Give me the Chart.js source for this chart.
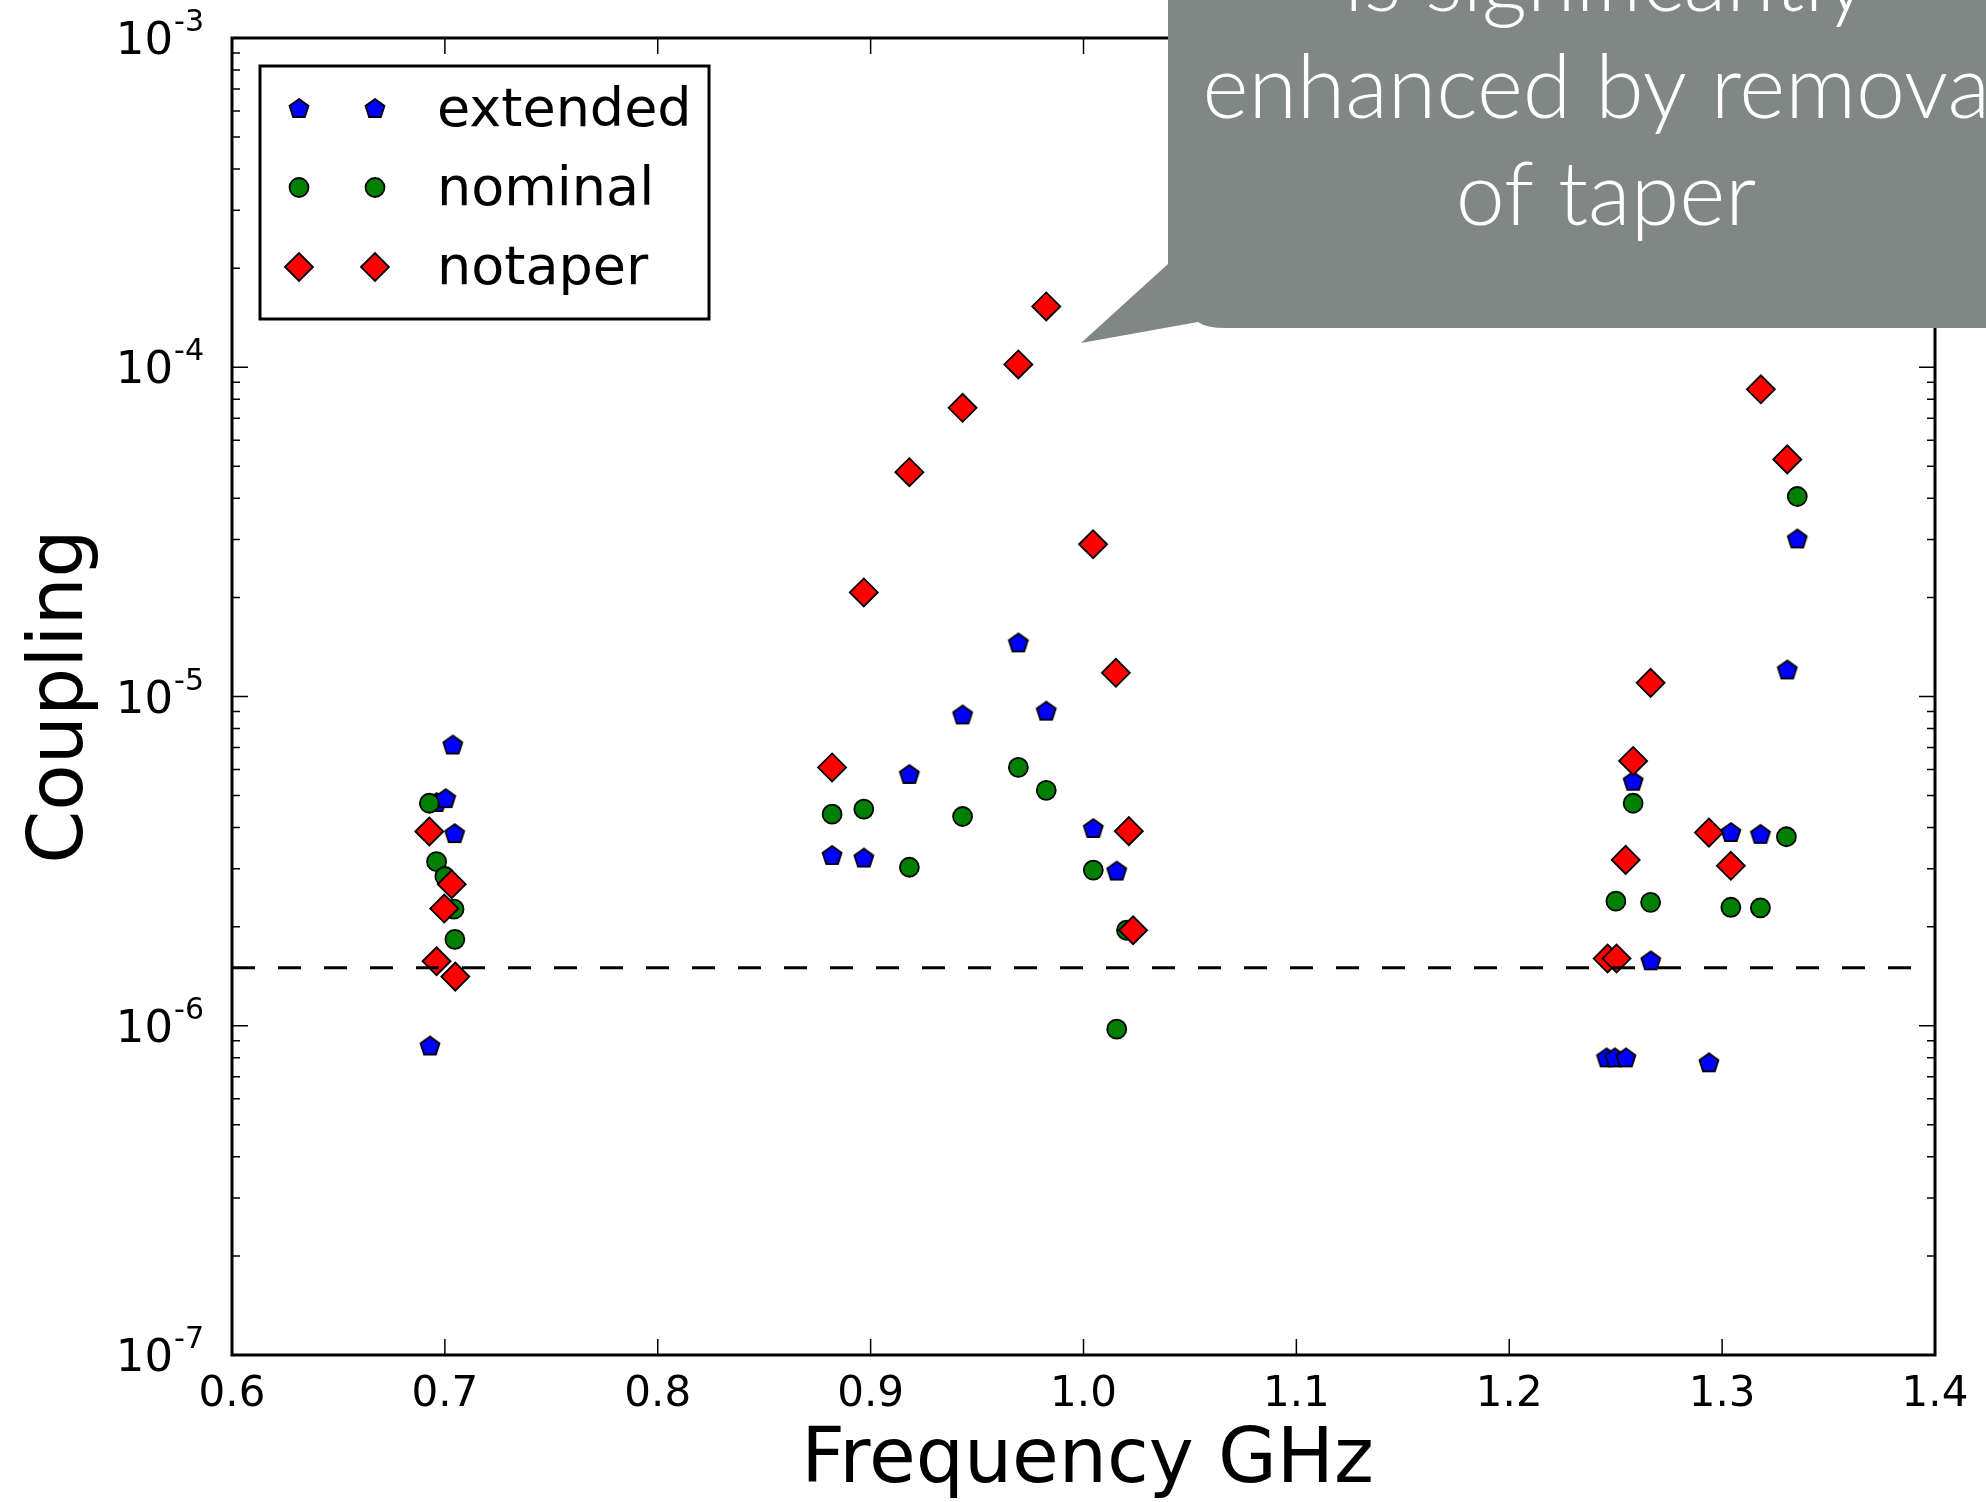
<!DOCTYPE html>
<html>
<head>
<meta charset="utf-8">
<script src="https://cdn.jsdelivr.net/npm/chart.js@4.4.0/dist/chart.umd.min.js"></script>
<style>
  html, body { margin: 0; padding: 0; background: #fff; }
  #wrap { width: 1986px; height: 1502px; }
</style>
</head>
<body>
<div id="wrap"><canvas id="myChart" width="1986" height="1502"></canvas></div>
<script>
// ---- data (frequency in GHz, coupling) ----
const extendedFreq = [0.693, 0.6961, 0.7004, 0.7037, 0.7046,
  0.8819, 0.8968, 0.9182, 0.9432, 0.9694, 0.9825, 1.0046, 1.0156,
  1.2457, 1.2496, 1.2548, 1.2582, 1.2665, 1.2938, 1.3041, 1.318, 1.3306, 1.3353];
const extendedCoupling = [8.65e-7, 4.75e-6, 4.88e-6, 7.1e-6, 3.82e-6,
  3.28e-6, 3.22e-6, 5.78e-6, 8.76e-6, 1.45e-5, 9.0e-6, 3.96e-6, 2.94e-6,
  7.96e-7, 7.96e-7, 7.96e-7, 5.51e-6, 1.57e-6, 7.69e-7, 3.85e-6, 3.8e-6, 1.2e-5, 3.0e-5];

const nominalFreq = [0.6927, 0.6961, 0.7, 0.7043, 0.7047,
  0.8819, 0.8968, 0.9182, 0.9432, 0.9694, 0.9825, 1.0046, 1.0156, 1.0202,
  1.2501, 1.2582, 1.2664, 1.3041, 1.318, 1.3302, 1.3353];
const nominalCoupling = [4.74e-6, 3.15e-6, 2.84e-6, 2.26e-6, 1.83e-6,
  4.39e-6, 4.55e-6, 3.03e-6, 4.32e-6, 6.09e-6, 5.19e-6, 2.97e-6, 9.76e-7, 1.95e-6,
  2.39e-6, 4.74e-6, 2.37e-6, 2.29e-6, 2.28e-6, 3.75e-6, 4.05e-5];

const notaperFreq = [0.6927, 0.6961, 0.6997, 0.7032, 0.7049,
  0.8819, 0.8968, 0.9182, 0.9432, 0.9694, 0.9825, 1.0045, 1.0152, 1.0213, 1.0233,
  1.2462, 1.2504, 1.2547, 1.2582, 1.2664, 1.2938, 1.3041, 1.3182, 1.3306];
const notaperCoupling = [3.89e-6, 1.57e-6, 2.27e-6, 2.69e-6, 1.41e-6,
  6.09e-6, 2.07e-5, 4.8e-5, 7.53e-5, 1.02e-4, 1.53e-4, 2.9e-5, 1.18e-5, 3.9e-6, 1.95e-6,
  1.6e-6, 1.6e-6, 3.19e-6, 6.37e-6, 1.1e-5, 3.86e-6, 3.06e-6, 8.57e-5, 5.25e-5];

const thresholdCoupling = 1.5e-6;
const xRange = [0.6, 1.4];
const xTickValues = [0.6, 0.7, 0.8, 0.9, 1.0, 1.1, 1.2, 1.3, 1.4];
const xTickLabels = ["0.6", "0.7", "0.8", "0.9", "1.0", "1.1", "1.2", "1.3", "1.4"];
const yDecadeExps = [-7, -6, -5, -4, -3];
const yMinorMultipliers = [2, 3, 4, 5, 6, 7, 8, 9];
const seriesNames = ["extended", "nominal", "notaper"];
const calloutLines = ["is significantly", "enhanced by removal", "of taper"];

// ---- marker helpers ----
function makePentagon(r, fill) {
  const size = Math.ceil(2 * r + 6);
  const c = document.createElement("canvas");
  c.width = size; c.height = size;
  const g = c.getContext("2d");
  const cx = size / 2, cy = size / 2;
  g.beginPath();
  for (let i = 0; i < 5; i++) {
    const a = -Math.PI / 2 + i * 2 * Math.PI / 5;
    const px = cx + r * Math.cos(a), py = cy + r * Math.sin(a);
    if (i === 0) g.moveTo(px, py); else g.lineTo(px, py);
  }
  g.closePath();
  g.fillStyle = fill;
  g.fill();
  g.lineWidth = 1.8;
  g.strokeStyle = "#000";
  g.stroke();
  return c;
}
const pentagon = makePentagon(10, "#0000ff");

const toPoints = (xs, ys) => xs.map((x, i) => ({ x, y: ys[i] }));

const markerStyles = [
  { pointStyle: pentagon, radius: 10, fill: "#0000ff" },
  { pointStyle: "circle", radius: 9.5, fill: "#008000" },
  { pointStyle: "rectRot", radius: 14, fill: "#ff0000" }
];

function drawMarker(ctx, st, x, y) {
  ctx.save();
  ctx.fillStyle = st.fill;
  ctx.strokeStyle = "#000";
  ctx.lineWidth = 1.8;
  Chart.helpers.drawPoint(ctx, { pointStyle: st.pointStyle, radius: st.radius, rotation: 0, borderWidth: 1.8 }, x, y);
  ctx.restore();
}

// ---- axes: frame, inward ticks, labels, titles, legend, callout ----
const axesPlugin = {
  id: "mplAxes",
  afterDatasetsDraw(chart) {
    const { ctx, chartArea: a, scales: { x, y } } = chart;
    ctx.save();
    ctx.strokeStyle = "#000";
    ctx.lineWidth = 1.5;
    ctx.beginPath();
    xTickValues.forEach(v => {
      const px = x.getPixelForValue(v);
      ctx.moveTo(px, a.bottom); ctx.lineTo(px, a.bottom - 16);
      ctx.moveTo(px, a.top); ctx.lineTo(px, a.top + 16);
    });
    yDecadeExps.forEach(e => {
      const py = y.getPixelForValue(Math.pow(10, e));
      ctx.moveTo(a.left, py); ctx.lineTo(a.left + 16, py);
      ctx.moveTo(a.right, py); ctx.lineTo(a.right - 16, py);
      if (e < -3) {
        yMinorMultipliers.forEach(m => {
          const pm = y.getPixelForValue(m * Math.pow(10, e));
          ctx.moveTo(a.left, pm); ctx.lineTo(a.left + 8, pm);
          ctx.moveTo(a.right, pm); ctx.lineTo(a.right - 8, pm);
        });
      }
    });
    ctx.stroke();

    ctx.lineWidth = 3;
    ctx.strokeRect(a.left, a.top, a.right - a.left, a.bottom - a.top);

    // x tick labels
    ctx.fillStyle = "#000";
    ctx.font = '42px "DejaVu Sans"';
    ctx.textAlign = "center";
    ctx.textBaseline = "alphabetic";
    xTickValues.forEach((v, i) => {
      ctx.fillText(xTickLabels[i], x.getPixelForValue(v), 1406);
    });

    // y tick labels 10^e
    yDecadeExps.forEach(e => {
      const py = y.getPixelForValue(Math.pow(10, e));
      ctx.font = '45px "DejaVu Sans"';
      const wBase = ctx.measureText("10").width;
      ctx.font = '30px "DejaVu Sans"';
      const sup = "-" + Math.abs(e);
      const wSup = ctx.measureText(sup).width;
      const right = 204;
      const left = right - wSup - wBase - 1;
      ctx.textAlign = "left";
      ctx.font = '45px "DejaVu Sans"';
      ctx.fillText("10", left, py + 16);
      ctx.font = '30px "DejaVu Sans"';
      ctx.fillText(sup, left + wBase + 1, py - 7);
    });

    // axis titles
    ctx.font = '76px "DejaVu Sans"';
    ctx.textAlign = "center";
    ctx.fillText("Frequency GHz", (a.left + a.right) / 2 + 4, 1482);
    ctx.save();
    ctx.translate(82, (a.top + a.bottom) / 2);
    ctx.rotate(-Math.PI / 2);
    ctx.fillText("Coupling", 0, 0);
    ctx.restore();

    // legend box
    ctx.fillStyle = "#fff";
    ctx.fillRect(260, 66, 449, 253);
    ctx.lineWidth = 3;
    ctx.strokeRect(260, 66, 449, 253);
    const rows = [109, 187.5, 267];
    ctx.font = '54px "DejaVu Sans"';
    ctx.textAlign = "left";
    ctx.textBaseline = "middle";
    seriesNames.forEach((name, i) => {
      drawMarker(ctx, markerStyles[i], 299, rows[i]);
      drawMarker(ctx, markerStyles[i], 375, rows[i]);
      ctx.fillStyle = "#000";
      ctx.fillText(name, 437, rows[i] + 3);
    });
    ctx.restore();
  },
  afterDraw(chart) {
    // grey speech-bubble callout in the top right
    const ctx = chart.ctx;
    ctx.save();
    ctx.fillStyle = "#818785";
    ctx.beginPath();
    ctx.moveTo(1168, -10);
    ctx.lineTo(1168, 264);
    ctx.lineTo(1081, 343);
    ctx.lineTo(1198, 322);
    ctx.quadraticCurveTo(1206, 328, 1226, 328);
    ctx.lineTo(2000, 328);
    ctx.lineTo(2000, -10);
    ctx.closePath();
    ctx.fill();
    ctx.fillStyle = "#fff";
    ctx.font = '300 88px Lato, "Open Sans", sans-serif';
    ctx.textAlign = "center";
    ctx.textBaseline = "alphabetic";
    const base = [11, 118, 225];
    calloutLines.forEach((t, i) => ctx.fillText(t, 1606, base[i]));
    ctx.restore();
  }
};

const ctx = document.getElementById("myChart");
new Chart(ctx, {
  type: "scatter",
  data: {
    datasets: [
      {
        type: "line",
        label: "threshold",
        data: [{ x: xRange[0], y: thresholdCoupling }, { x: xRange[1], y: thresholdCoupling }],
        borderColor: "#000",
        borderWidth: 3,
        borderDash: [23, 23],
        pointRadius: 0,
        fill: false,
        order: 0
      },
      {
        label: seriesNames[2],
        data: toPoints(notaperFreq, notaperCoupling),
        pointStyle: "rectRot",
        pointRadius: 14,
        backgroundColor: "#ff0000",
        borderColor: "#000",
        borderWidth: 1.8,
        order: 1
      },
      {
        label: seriesNames[1],
        data: toPoints(nominalFreq, nominalCoupling),
        pointStyle: "circle",
        pointRadius: 9.5,
        backgroundColor: "#008000",
        borderColor: "#000",
        borderWidth: 1.8,
        order: 2
      },
      {
        label: seriesNames[0],
        data: toPoints(extendedFreq, extendedCoupling),
        pointStyle: pentagon,
        pointRadius: 10,
        backgroundColor: "#0000ff",
        borderColor: "#000",
        order: 3
      }
    ]
  },
  options: {
    responsive: false,
    animation: false,
    devicePixelRatio: 1,
    layout: { padding: { left: 232, right: 51, top: 38, bottom: 147 } },
    plugins: { legend: { display: false }, tooltip: { enabled: false } },
    scales: {
      x: { type: "linear", min: xRange[0], max: xRange[1], display: false },
      y: { type: "logarithmic", min: 1e-7, max: 1e-3, display: false }
    }
  },
  plugins: [axesPlugin]
});
</script>
</body>
</html>
